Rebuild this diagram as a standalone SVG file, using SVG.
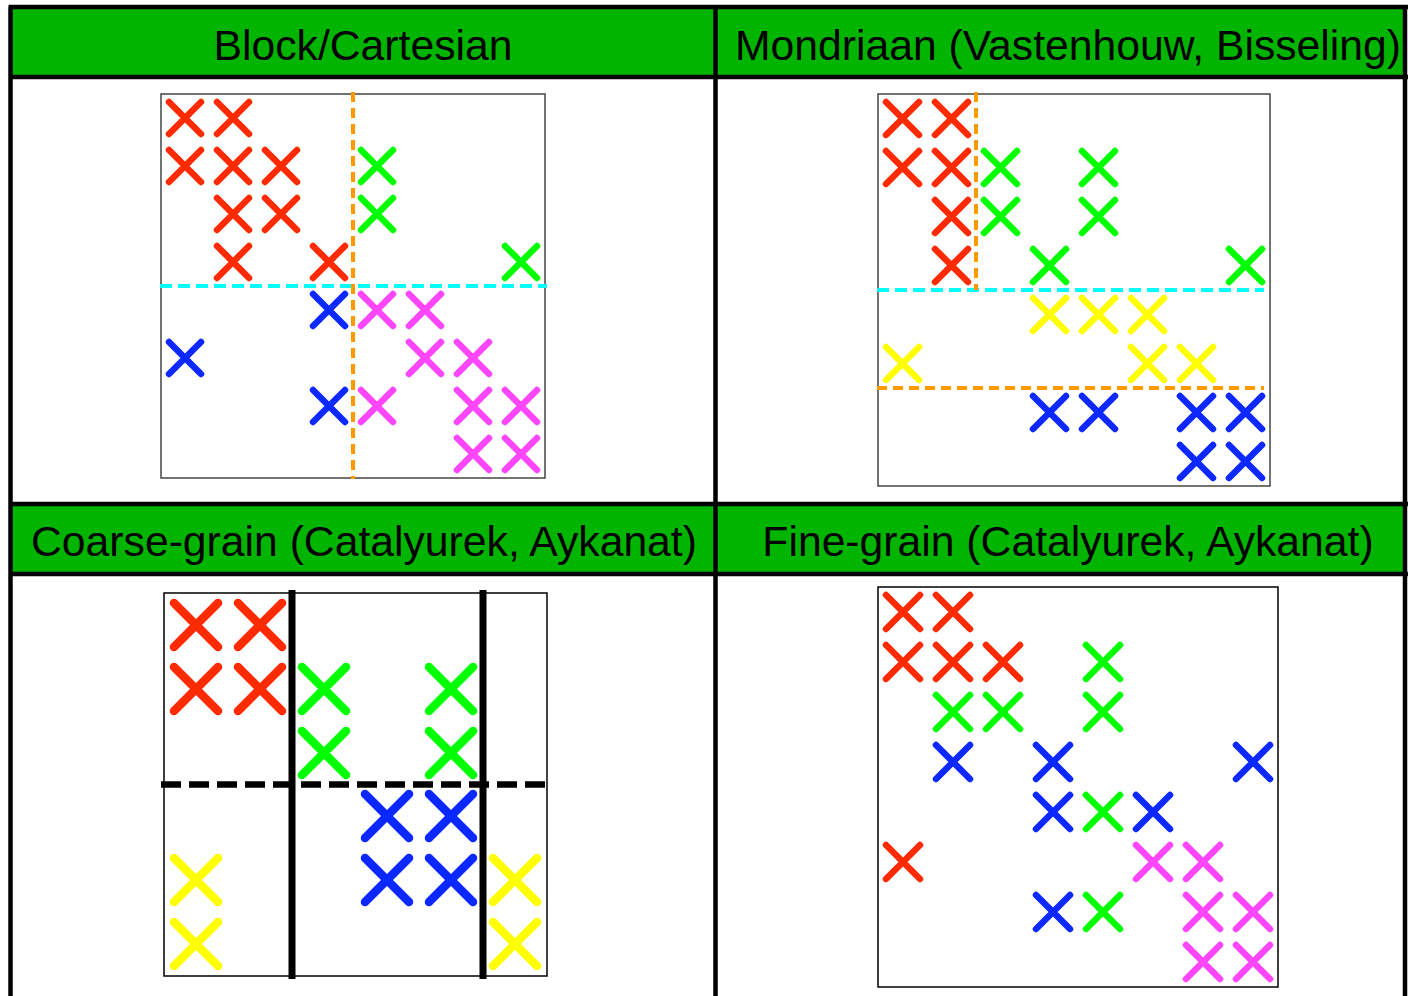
<svg xmlns="http://www.w3.org/2000/svg" width="1408" height="996" viewBox="0 0 1408 996">
<style>
.hdr{fill:#00b400}
.grid{stroke:#000;stroke-width:4.5;fill:none}
.ht{font-family:"Liberation Sans",Arial,sans-serif;font-size:42.7px;fill:#000;text-anchor:middle}
.box{fill:none;stroke:#444;stroke-width:1.5}
.box2{fill:none;stroke:#000;stroke-width:1.5}
.xp{fill:none;stroke-linecap:round;stroke-width:6.5}
.xq{fill:none;stroke-linecap:round;stroke-width:8.5}
.r{stroke:#ff2a00}
.g{stroke:#00ff00}
.b{stroke:#0a28ff}
.m{stroke:#ff46ff}
.y{stroke:#ffff00}
.dc{stroke:#00ffff;stroke-width:4;stroke-dasharray:12 6;fill:none}
.do{stroke:#ff9900;stroke-width:4;stroke-dasharray:10 6;fill:none}
.dk{stroke:#000;stroke-width:6.5;stroke-dasharray:20 8;fill:none}
.vk{stroke:#000;stroke-width:7;fill:none}
</style>
<defs>
<path id="x1" class="xp" d="M-16,-16L16,16M-16,16L16,-16"/>
<path id="x2" class="xp" d="M-16.5,-16.5L16.5,16.5M-16.5,16.5L16.5,-16.5"/>
<path id="x3" class="xq" d="M-22,-22L22,22M-22,22L22,-22"/>
<path id="x4" class="xp" d="M-17,-17L17,17M-17,17L17,-17"/>
</defs>
<g id="table">
<rect class="hdr" x="10" y="7" width="1396" height="70"/>
<rect class="hdr" x="10" y="504" width="1396" height="70"/>
<path class="grid" d="M10.5,7V996M715.5,7V996M1405,7V996M8.5,7H1408M8.5,77H1408M8.5,504H1408M8.5,574H1408"/>
<text class="ht" x="363" y="59.5">Block/Cartesian</text>
<text class="ht" x="1068" y="59.5">Mondriaan (Vastenhouw, Bisseling)</text>
<text class="ht" x="364" y="556">Coarse-grain (Catalyurek, Aykanat)</text>
<text class="ht" x="1068" y="556">Fine-grain (Catalyurek, Aykanat)</text>
</g>
<g id="panel-block">
<rect class="box" x="161" y="94" width="384" height="384"/>
<use href="#x1" class="r" x="185" y="118"/><use href="#x1" class="r" x="233" y="118"/>
<use href="#x1" class="r" x="185" y="166"/><use href="#x1" class="r" x="233" y="166"/><use href="#x1" class="r" x="281" y="166"/><use href="#x1" class="g" x="377" y="166"/>
<use href="#x1" class="r" x="233" y="214"/><use href="#x1" class="r" x="281" y="214"/><use href="#x1" class="g" x="377" y="214"/>
<use href="#x1" class="r" x="233" y="262"/><use href="#x1" class="r" x="329" y="262"/><use href="#x1" class="g" x="521" y="262"/>
<use href="#x1" class="b" x="329" y="310"/><use href="#x1" class="m" x="377" y="310"/><use href="#x1" class="m" x="425" y="310"/>
<use href="#x1" class="b" x="185" y="358"/><use href="#x1" class="m" x="425" y="358"/><use href="#x1" class="m" x="473" y="358"/>
<use href="#x1" class="b" x="329" y="406"/><use href="#x1" class="m" x="377" y="406"/><use href="#x1" class="m" x="473" y="406"/><use href="#x1" class="m" x="521" y="406"/>
<use href="#x1" class="m" x="473" y="454"/><use href="#x1" class="m" x="521" y="454"/>
</g>
<g id="panel-mondriaan">
<rect class="box" x="878" y="94" width="392" height="392"/>
<use href="#x2" class="r" x="902.5" y="118.5"/><use href="#x2" class="r" x="951.5" y="118.5"/>
<use href="#x2" class="r" x="902.5" y="167.5"/><use href="#x2" class="r" x="951.5" y="167.5"/><use href="#x2" class="g" x="1000.5" y="167.5"/><use href="#x2" class="g" x="1098.5" y="167.5"/>
<use href="#x2" class="r" x="951.5" y="216.5"/><use href="#x2" class="g" x="1000.5" y="216.5"/><use href="#x2" class="g" x="1098.5" y="216.5"/>
<use href="#x2" class="r" x="951.5" y="265.5"/><use href="#x2" class="g" x="1049.5" y="265.5"/><use href="#x2" class="g" x="1245.5" y="265.5"/>
<use href="#x2" class="y" x="1049.5" y="314.5"/><use href="#x2" class="y" x="1098.5" y="314.5"/><use href="#x2" class="y" x="1147.5" y="314.5"/>
<use href="#x2" class="y" x="902.5" y="363.5"/><use href="#x2" class="y" x="1147.5" y="363.5"/><use href="#x2" class="y" x="1196.5" y="363.5"/>
<use href="#x2" class="b" x="1049.5" y="412.5"/><use href="#x2" class="b" x="1098.5" y="412.5"/><use href="#x2" class="b" x="1196.5" y="412.5"/><use href="#x2" class="b" x="1245.5" y="412.5"/>
<use href="#x2" class="b" x="1196.5" y="461.5"/><use href="#x2" class="b" x="1245.5" y="461.5"/>
</g>
<g id="panel-coarse">
<rect class="box2" x="164" y="593" width="383" height="383"/>
<use href="#x3" class="r" x="196" y="625"/><use href="#x3" class="r" x="260" y="625"/>
<use href="#x3" class="r" x="196" y="689"/><use href="#x3" class="r" x="260" y="689"/><use href="#x3" class="g" x="324" y="689"/><use href="#x3" class="g" x="451" y="689"/>
<use href="#x3" class="g" x="324" y="753"/><use href="#x3" class="g" x="451" y="753"/>
<use href="#x3" class="b" x="387" y="816"/><use href="#x3" class="b" x="451" y="816"/>
<use href="#x3" class="y" x="196" y="880"/><use href="#x3" class="b" x="387" y="880"/><use href="#x3" class="b" x="451" y="880"/><use href="#x3" class="y" x="515" y="880"/>
<use href="#x3" class="y" x="196" y="944"/><use href="#x3" class="y" x="515" y="944"/>
</g>
<g id="panel-fine">
<rect class="box2" x="878" y="587" width="400" height="400"/>
<use href="#x4" class="r" x="903" y="612"/><use href="#x4" class="r" x="953" y="612"/>
<use href="#x4" class="r" x="903" y="662"/><use href="#x4" class="r" x="953" y="662"/><use href="#x4" class="r" x="1003" y="662"/><use href="#x4" class="g" x="1103" y="662"/>
<use href="#x4" class="g" x="953" y="712"/><use href="#x4" class="g" x="1003" y="712"/><use href="#x4" class="g" x="1103" y="712"/>
<use href="#x4" class="b" x="953" y="762"/><use href="#x4" class="b" x="1053" y="762"/><use href="#x4" class="b" x="1253" y="762"/>
<use href="#x4" class="b" x="1053" y="812"/><use href="#x4" class="g" x="1103" y="812"/><use href="#x4" class="b" x="1153" y="812"/>
<use href="#x4" class="r" x="903" y="862"/><use href="#x4" class="m" x="1153" y="862"/><use href="#x4" class="m" x="1203" y="862"/>
<use href="#x4" class="b" x="1053" y="912"/><use href="#x4" class="g" x="1103" y="912"/><use href="#x4" class="m" x="1203" y="912"/><use href="#x4" class="m" x="1253" y="912"/>
<use href="#x4" class="m" x="1203" y="962"/><use href="#x4" class="m" x="1253" y="962"/>
</g>
<g id="connectors">
<path class="dc" d="M160,286H547"/>
<path class="do" d="M353,92V479"/>
<path class="dc" d="M877,290H1264"/>
<path class="do" d="M976,92V290"/>
<path class="do" d="M877,388H1264"/>
<path class="vk" d="M292,590V979M483,590V979"/>
<path class="dk" d="M161,784.5H550"/>
</g>
</svg>
